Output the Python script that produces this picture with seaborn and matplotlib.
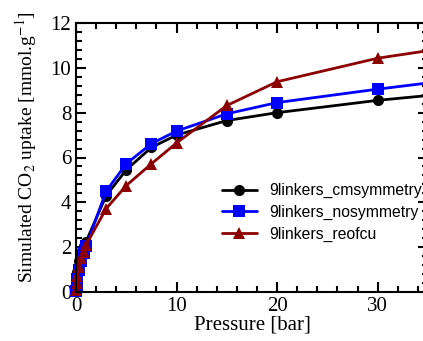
import numpy as np
import pandas as pd
import matplotlib
matplotlib.use("Agg")
import matplotlib.pyplot as plt
import seaborn as sns
from matplotlib.ticker import MultipleLocator

# pressures [bar]
pressure = [0.01, 0.05, 0.1, 0.25, 0.5, 0.75, 1.0, 3, 5, 7.5, 10, 15, 20, 30, 40]

# simulated uptake [mmol/g]
cmsymmetry = [0.1, 0.5, 0.9, 1.4, 1.8, 2.05, 2.25, 4.3, 5.45, 6.45, 7.0, 7.65, 8.0, 8.55, 8.98]
nosymmetry = [0.05, 0.3, 0.6, 1.0, 1.4, 1.75, 2.05, 4.5, 5.72, 6.62, 7.18, 7.95, 8.45, 9.05, 9.6]
reofcu = [0.1, 0.4, 0.7, 1.1, 1.5, 1.8, 2.1, 3.72, 4.75, 5.72, 6.65, 8.32, 9.38, 10.43, 11.1]

names = ["9linkers_cmsymmetry", "9linkers_nosymmetry", "9linkers_reofcu"]
colors = ["black", "#0000ff", "#8b0000"]
markers = ["o", "s", "^"]

df = pd.concat([
    pd.DataFrame({"Pressure": pressure, "uptake": vals, "series": nm})
    for vals, nm in zip([cmsymmetry, nosymmetry, reofcu], names)
])

sns.set_style("ticks")
plt.rcParams['font.family'] = ['Liberation Serif', 'DejaVu Serif']
plt.rcParams['mathtext.fontset'] = 'stix'
plt.rcParams['text.color'] = 'black'
plt.rcParams['axes.labelcolor'] = 'black'
plt.rcParams['xtick.color'] = 'black'
plt.rcParams['ytick.color'] = 'black'
plt.rcParams['axes.edgecolor'] = 'black'

fig = plt.figure(figsize=(4.23, 3.41), dpi=100)
# right spine sits just past the figure edge, as in the original crop
ax = fig.add_axes([76/423, 1-292/341, (428-76)/423, (292-23)/341])

sns.lineplot(data=df, x="Pressure", y="uptake", hue="series", style="series",
             palette=dict(zip(names, colors)), markers=dict(zip(names, markers)),
             dashes=False, linewidth=2, markersize=8, markeredgewidth=0,
             ax=ax, sort=False)
for ln in ax.lines:
    ln.set_clip_on(False)

ax.set_xlim(0, 35)
ax.set_ylim(0, 12)
ax.xaxis.set_major_locator(MultipleLocator(10))
ax.xaxis.set_minor_locator(MultipleLocator(2))
ax.yaxis.set_major_locator(MultipleLocator(2))
ax.yaxis.set_minor_locator(MultipleLocator(0.4))
ax.tick_params(which="both", direction="in", top=True, right=True, labelsize=15, width=1.5)
ax.tick_params(which="major", length=7)
ax.tick_params(which="minor", length=4)
for s in ax.spines.values():
    s.set_linewidth(1.5)

ax.set_xlabel("Pressure [bar]", fontsize=15, labelpad=0)
ax.set_ylabel(r"Simulated CO$_2$ uptake [mmol.g$^{-1}$]", fontsize=14)
ax.yaxis.set_label_coords(-0.105, 0.54)

leg = ax.legend(loc="upper left", bbox_to_anchor=(0.415, 0.405), frameon=False,
                prop={"family": "Liberation Sans", "size": 11.3},
                handlelength=2.2, handletextpad=0.8, labelspacing=0.43,
                borderaxespad=0, borderpad=0)

fig.savefig("out.png", dpi=100)
